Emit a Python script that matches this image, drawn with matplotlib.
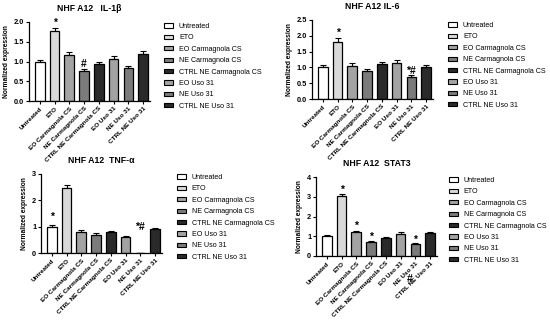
import matplotlib
matplotlib.use('Agg')
import matplotlib.pyplot as plt
from matplotlib.patches import Patch

plt.rcParams['font.family'] = ['Liberation Sans', 'DejaVu Sans']

groups = ['Untreated', 'ETO', 'EO Carmagnola CS', 'NE Carmagnola CS',
          'CTRL NE Carmagnola CS', 'EO Uso 31', 'NE Uso 31', 'CTRL NE Uso 31']
colors = ['#ffffff', '#d9d9d9', '#a3a3a3', '#7b7b7b',
          '#2a2a2a', '#a3a3a3', '#7b7b7b', '#2a2a2a']

# IL-1beta
il1b_mean = [1.00, 1.77, 1.17, 0.77, 0.94, 1.07, 0.83, 1.18]
il1b_err = [0.05, 0.09, 0.06, 0.03, 0.05, 0.06, 0.05, 0.08]
il1b_marks = [(1, '*', 1.86), (3, '#', 0.80)]

# IL-6
il6_mean = [1.00, 1.79, 1.05, 0.88, 1.10, 1.15, 0.70, 1.00]
il6_err = [0.07, 0.15, 0.10, 0.06, 0.06, 0.07, 0.05, 0.07]
il6_marks = [(1, '*', 1.93), (6, '*#', 0.74)]

# TNF-alpha (NE Uso 31 not detected)
tnf_mean = [1.00, 2.45, 0.80, 0.70, 0.78, 0.62, 0.0, 0.92]
tnf_err = [0.08, 0.15, 0.07, 0.06, 0.05, 0.04, 0.0, 0.04]
tnf_marks = [(0, '*', 1.18), (6, '*#', 0.78)]

# STAT3
stat3_mean = [1.00, 3.05, 1.23, 0.73, 0.93, 1.13, 0.60, 1.15]
stat3_err = [0.05, 0.10, 0.06, 0.05, 0.05, 0.07, 0.05, 0.07]
stat3_marks = [(1, '*', 3.10), (2, '*', 1.25), (3, '*', 0.72), (6, '*', 0.58),
               (5.6, '#', -1.4)]

W, H = 550, 320
fig = plt.figure(figsize=(5.5, 3.2), dpi=100)


def panel(left_px, bottom_px, title, mean, err, marks, ymax, ystep, yfmt,
          leg_x, leg_top):
    width_px = 121
    height_px = 79
    ax = fig.add_axes([left_px / W, 1 - bottom_px / H, width_px / W, height_px / H])
    x = range(len(groups))
    ax.bar(x, mean, width=0.65, color=colors, edgecolor='black', linewidth=0.9, zorder=2)
    ax.errorbar(x, mean, yerr=[[0] * len(err), err], fmt='none', ecolor='black',
                elinewidth=0.8, capsize=2, capthick=0.8, zorder=1)
    for i, txt, y in marks:
        ax.text(i, y, txt, ha='center', va='bottom', fontsize=7.5, fontweight='bold',
                clip_on=False)
    ax.set_xlim(-0.73, 7.47)
    ax.set_ylim(0, ymax)
    ticks = [ystep * k for k in range(int(round(ymax / ystep)) + 1)]
    ax.set_yticks(ticks)
    ax.set_yticklabels([yfmt.format(t) for t in ticks], fontsize=5.3, fontweight='bold')
    ax.set_xticks(list(x))
    ax.set_xticklabels(groups, rotation=45, ha='right', rotation_mode='anchor',
                       fontsize=4.6, fontweight='bold')
    ax.tick_params(axis='both', length=2, width=0.8, pad=1.5)
    ax.spines['right'].set_visible(False)
    ax.spines['top'].set_visible(False)
    ax.spines['left'].set_linewidth(0.9)
    ax.spines['bottom'].set_linewidth(0.9)
    ax.set_ylabel('Normalized expression', fontsize=4.8, fontweight='bold', labelpad=3)
    ax.set_title(title, fontsize=6.3, fontweight='bold', pad=8)
    handles = [Patch(facecolor=c, edgecolor='black', linewidth=0.8) for c in colors]
    ax.legend(handles, groups, loc='upper left', bbox_to_anchor=(leg_x / W, 1 - leg_top / H),
              bbox_transform=fig.transFigure, frameon=False, fontsize=5.1,
              handlelength=1.3, handleheight=0.55, handletextpad=0.8,
              labelspacing=0.62, borderpad=0, borderaxespad=0)
    return ax


panel(29, 101, 'NHF A12   IL-1\u03b2', il1b_mean, il1b_err, il1b_marks, 2.0, 0.5, '{:.1f}', 164, 23)
panel(312, 99, 'NHF A12 IL-6', il6_mean, il6_err, il6_marks, 2.5, 0.5, '{:.1f}', 448, 22)
panel(41, 253, 'NHF A12  TNF-\u03b1', tnf_mean, tnf_err, tnf_marks, 3, 1, '{:.0f}', 177, 174)
panel(316, 256, 'NHF A12  STAT3', stat3_mean, stat3_err, stat3_marks, 4, 1, '{:.0f}', 449, 177)

fig.savefig('out.png', dpi=100)
